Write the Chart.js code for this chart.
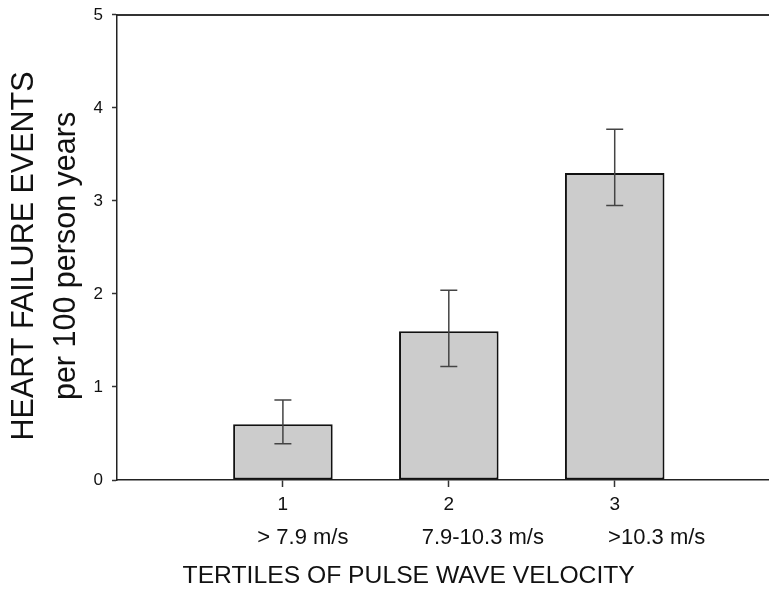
<!DOCTYPE html>
<html>
<head>
<meta charset="utf-8">
<script src="https://cdn.jsdelivr.net/npm/chart.js@4.4.1/dist/chart.umd.min.js"></script>
<style>
  html, body { margin: 0; padding: 0; background: #fff; }
  #wrap { width: 769px; height: 606px; }
</style>
</head>
<body>
<div id="wrap"><canvas id="myChart" width="769" height="606"></canvas></div>
<script>
var tertiles = [1, 2, 3];
var tertileLabels = ['1', '2', '3'];
var rangeLabels = ['> 7.9 m/s', '7.9-10.3 m/s', '>10.3 m/s'];
var events = [0.6, 1.6, 3.3];
var upperCI = [0.86, 2.04, 3.77];
var lowerCI = [0.39, 1.22, 2.95];
var yTicks = [0, 1, 2, 3, 4, 5];

var fontFamily = "'Liberation Sans', Arial, Helvetica, sans-serif";
// the range labels sit a bit right of their tick in the original
var rangeShift = [20, 34, 42];

// error bars drawn on top of the bars
var errorBars = {
    id: 'errorBars',
    afterDatasetsDraw: function (chart) {
        var ctx = chart.ctx;
        var xs = chart.scales.x;
        var ys = chart.scales.y;
        ctx.save();
        ctx.strokeStyle = '#444';
        ctx.lineWidth = 1.5;
        tertiles.forEach(function (t, i) {
            var px = xs.getPixelForValue(t);
            var top = ys.getPixelForValue(upperCI[i]);
            var bot = ys.getPixelForValue(lowerCI[i]);
            ctx.beginPath();
            ctx.moveTo(px, top);
            ctx.lineTo(px, bot);
            ctx.moveTo(px - 8.5, top);
            ctx.lineTo(px + 8.5, top);
            ctx.moveTo(px - 8.5, bot);
            ctx.lineTo(px + 8.5, bot);
            ctx.stroke();
        });
        ctx.restore();
    }
};

// second row of category labels under the tick numbers
var rangeRow = {
    id: 'rangeRow',
    afterDraw: function (chart) {
        var ctx = chart.ctx;
        var xs = chart.scales.x;
        ctx.save();
        ctx.fillStyle = '#111';
        ctx.font = '22px ' + fontFamily;
        ctx.textAlign = 'center';
        ctx.textBaseline = 'middle';
        tertiles.forEach(function (t, i) {
            ctx.fillText(rangeLabels[i], xs.getPixelForValue(t) + rangeShift[i], xs.top + 57.5);
        });
        ctx.restore();
    }
};

new Chart(document.getElementById('myChart'), {
    type: 'bar',
    data: {
        datasets: [{
            xAxisID: 'x',
            yAxisID: 'y',
            data: tertiles.map(function (t, i) { return {x: t, y: events[i]}; }),
            backgroundColor: '#cccccc',
            borderColor: '#111',
            borderWidth: 2,
            borderSkipped: false,
            barPercentage: 0.75,
            categoryPercentage: 0.8
        }]
    },
    options: {
        responsive: false,
        animation: false,
        layout: { padding: 0 },
        plugins: {
            legend: { display: false },
            tooltip: { enabled: false }
        },
        scales: {
            x: {
                type: 'linear',
                position: 'bottom',
                offset: false,
                min: 0,
                max: 3.93,
                afterBuildTicks: function (scale) {
                    scale.ticks = tertiles.map(function (t) { return {value: t}; });
                },
                afterFit: function (scale) { scale.height = 126; },
                ticks: {
                    color: '#111',
                    padding: 6,
                    maxRotation: 0,
                    autoSkip: false,
                    font: { family: fontFamily, size: 19, lineHeight: 1.2 },
                    callback: function (value) {
                        var i = tertiles.indexOf(value);
                        return i < 0 ? '' : tertileLabels[i];
                    }
                },
                grid: { drawOnChartArea: false, offset: false, tickLength: 7, tickColor: '#333', tickWidth: 1.5 },
                border: { color: '#222', width: 1.5 },
                title: {
                    display: true,
                    text: 'TERTILES OF PULSE WAVE VELOCITY\u00a0\u00a0\u00a0\u00a0\u00a0\u00a0\u00a0\u00a0\u00a0\u00a0',
                    color: '#111',
                    font: { family: fontFamily, size: 24.7 },
                    padding: { top: 0, bottom: 15 }
                }
            },
            x2: {
                type: 'linear',
                position: 'top',
                offset: false,
                min: 0,
                max: 3.93,
                afterFit: function (scale) { scale.height = 11; },
                ticks: { display: false },
                grid: { display: false },
                border: { color: '#333', width: 2 }
            },
            y: {
                type: 'linear',
                min: 0,
                max: 5,
                afterBuildTicks: function (scale) {
                    scale.ticks = yTicks.map(function (v) { return {value: v}; });
                },
                afterFit: function (scale) { scale.width = 117; },
                ticks: {
                    color: '#111',
                    padding: 9,
                    font: { family: fontFamily, size: 17, lineHeight: 0.7 }
                },
                grid: { drawOnChartArea: false, tickLength: 5, tickColor: '#333', tickWidth: 1.5 },
                border: { color: '#222', width: 1.5 },
                title: {
                    display: true,
                    text: ['HEART FAILURE EVENTS\u00a0\u00a0', 'per 100 person years\u00a0\u00a0'],
                    color: '#111',
                    font: { family: fontFamily, size: 30.5, lineHeight: 1.377 },
                    padding: { top: 4, bottom: 0 }
                }
            }
        }
    },
    plugins: [errorBars, rangeRow]
});
</script>
</body>
</html>
